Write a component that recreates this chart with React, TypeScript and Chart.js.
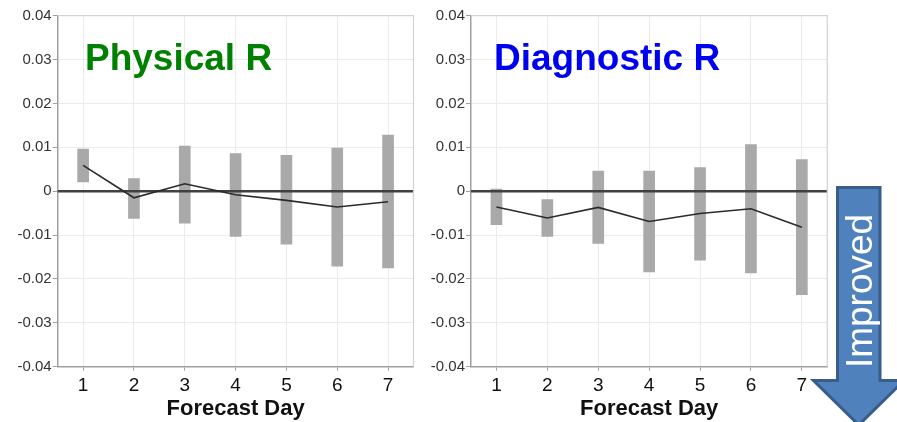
import React, { useEffect, useRef } from "react";
import { Chart, registerables } from "chart.js";

Chart.register(...registerables);

const categories = ["1", "2", "3", "4", "5", "6", "7"];

const physLow = [0.0021, -0.0062, -0.0073, -0.0103, -0.0121, -0.0171, -0.0175];
const physHigh = [0.0096, 0.0029, 0.0103, 0.0086, 0.0082, 0.0098, 0.0128];
const physMean = [0.0059, -0.0015, 0.0017, -0.0008, -0.0021, -0.0036, -0.0024];

const diagLow = [-0.0076, -0.0103, -0.0119, -0.0184, -0.0157, -0.0186, -0.0236];
const diagHigh = [0.0005, -0.0019, 0.0046, 0.0046, 0.0054, 0.0106, 0.0072];
const diagMean = [-0.0036, -0.0061, -0.0037, -0.0069, -0.0051, -0.0040, -0.0082];

const yMin = -0.04;
const yMax = 0.04;
const yStep = 0.01;

const xTitle = "Forecast Day";
const arrowLabel = "Improved";

const FONT = "'Liberation Sans', Arial, Helvetica, sans-serif";

type PanelProps = {
  left: number;
  width: number;
  yAxisWidth: number;
  padRight: number;
  low: number[];
  high: number[];
  mean: number[];
  title: string;
  titleColor: string;
  titleDx: number;
  arrow?: boolean;
};

function Panel(p: PanelProps) {
  const ref = useRef<HTMLCanvasElement | null>(null);
  useEffect(() => {
    if (!ref.current) return;
    const decor = {
      id: "decor",
      afterDatasetDraw(chart: any, args: any) {
        if (args.index !== 0) return;
        const { ctx, chartArea } = chart;
        const y = chart.scales.y.getPixelForValue(0);
        ctx.save();
        ctx.strokeStyle = "#404040";
        ctx.lineWidth = 2.5;
        ctx.beginPath();
        ctx.moveTo(chartArea.left, y);
        ctx.lineTo(chartArea.right, y);
        ctx.stroke();
        ctx.restore();
      },
      afterDraw(chart: any) {
        const { ctx, chartArea } = chart;
        ctx.save();
        // top & right frame
        ctx.strokeStyle = "#d2d2d2";
        ctx.lineWidth = 1.2;
        ctx.beginPath();
        ctx.moveTo(chartArea.left, chartArea.top);
        ctx.lineTo(chartArea.right, chartArea.top);
        ctx.lineTo(chartArea.right, chartArea.bottom);
        ctx.stroke();
        // title
        ctx.fillStyle = p.titleColor;
        ctx.font = `bold 37px ${FONT}`;
        ctx.textAlign = "left";
        ctx.textBaseline = "alphabetic";
        ctx.fillText(p.title, chartArea.left + p.titleDx, chartArea.top + 54.5);
        if (p.arrow) {
          const ox = -p.left;
          const sL = 837.5 + ox, sR = 880 + ox, sT = 187.5;
          const hY = 380.5, hL = 813.5 + ox, hR = 904 + ox;
          const tipX = (sL + sR) / 2, tipY = 425;
          ctx.beginPath();
          ctx.moveTo(sL, sT);
          ctx.lineTo(sR, sT);
          ctx.lineTo(sR, hY);
          ctx.lineTo(hR, hY);
          ctx.lineTo(tipX, tipY);
          ctx.lineTo(hL, hY);
          ctx.lineTo(sL, hY);
          ctx.closePath();
          ctx.fillStyle = "#4f81bd";
          ctx.fill();
          ctx.strokeStyle = "#385d8a";
          ctx.lineWidth = 3;
          ctx.lineJoin = "miter";
          ctx.stroke();
          ctx.translate(862 + ox, 291);
          ctx.rotate(-Math.PI / 2);
          ctx.fillStyle = "#ffffff";
          ctx.font = `37px ${FONT}`;
          ctx.textAlign = "center";
          ctx.textBaseline = "middle";
          ctx.fillText(arrowLabel, 0, 0);
        }
        ctx.restore();
      },
    };

    const chart = new Chart(ref.current, {
      type: "bar",
      data: {
        labels: categories,
        datasets: [
          {
            type: "bar",
            data: p.low.map((l, i) => [l, p.high[i]]) as any,
            backgroundColor: "#a9a9a9",
            borderWidth: 0,
            barThickness: 11,
            order: 2,
          },
          {
            type: "line",
            data: p.mean,
            borderColor: "#2b2b2b",
            borderWidth: 1.6,
            pointRadius: 0,
            tension: 0,
            fill: false,
            order: 1,
          } as any,
        ],
      },
      options: {
        responsive: false,
        animation: false,
        layout: { padding: { top: 15.7, right: p.padRight, left: 0, bottom: 0 } },
        plugins: { legend: { display: false }, tooltip: { enabled: false } },
        scales: {
          x: {
            offset: true,
            grid: {
              offset: false,
              color: "#ebebeb",
              tickColor: "#a0a0a0",
              tickLength: 4,
              lineWidth: 1,
            },
            border: { color: "#a0a0a0", width: 1.5 },
            ticks: {
              color: "#111",
              font: { family: FONT, size: 19 },
              padding: 4,
            },
            title: {
              display: true,
              text: xTitle,
              color: "#111",
              font: { family: FONT, size: 22, weight: "bold" },
              padding: { top: 0, bottom: 0 },
            },
            afterFit: (s: any) => {
              s.height = 55.3;
            },
          },
          y: {
            min: yMin,
            max: yMax,
            ticks: {
              stepSize: yStep,
              color: "#333",
              font: { family: FONT, size: 15 },
              padding: 1,
              callback: (v: any) => (Math.abs(Number(v)) < 1e-9 ? "0" : Number(v).toFixed(2)),
            },
            grid: {
              color: "#ebebeb",
              tickColor: "#a0a0a0",
              tickLength: 5,
            },
            border: { color: "#a0a0a0", width: 1.5 },
            afterFit: (s: any) => {
              s.width = p.yAxisWidth;
            },
          },
        },
      },
      plugins: [decor],
    } as any);
    return () => chart.destroy();
  }, []);
  return (
    <canvas
      ref={ref}
      width={p.width}
      height={422}
      style={{ position: "absolute", left: p.left, top: 0, width: p.width, height: 422, display: "block" }}
    />
  );
}

export default function App() {
  return (
    <div style={{ position: "absolute", left: 0, top: 0, width: 897, height: 422, background: "#fff", overflow: "hidden" }}>
      <Panel
        left={0}
        width={420}
        yAxisWidth={57.7}
        padRight={6.5}
        low={physLow}
        high={physHigh}
        mean={physMean}
        title="Physical R"
        titleColor="#008000"
        titleDx={27.3}
      />
      <Panel
        left={420}
        width={477}
        yAxisWidth={51}
        padRight={69.7}
        low={diagLow}
        high={diagHigh}
        mean={diagMean}
        title="Diagnostic R"
        titleColor="#0000f0"
        titleDx={23}
        arrow
      />
    </div>
  );
}
